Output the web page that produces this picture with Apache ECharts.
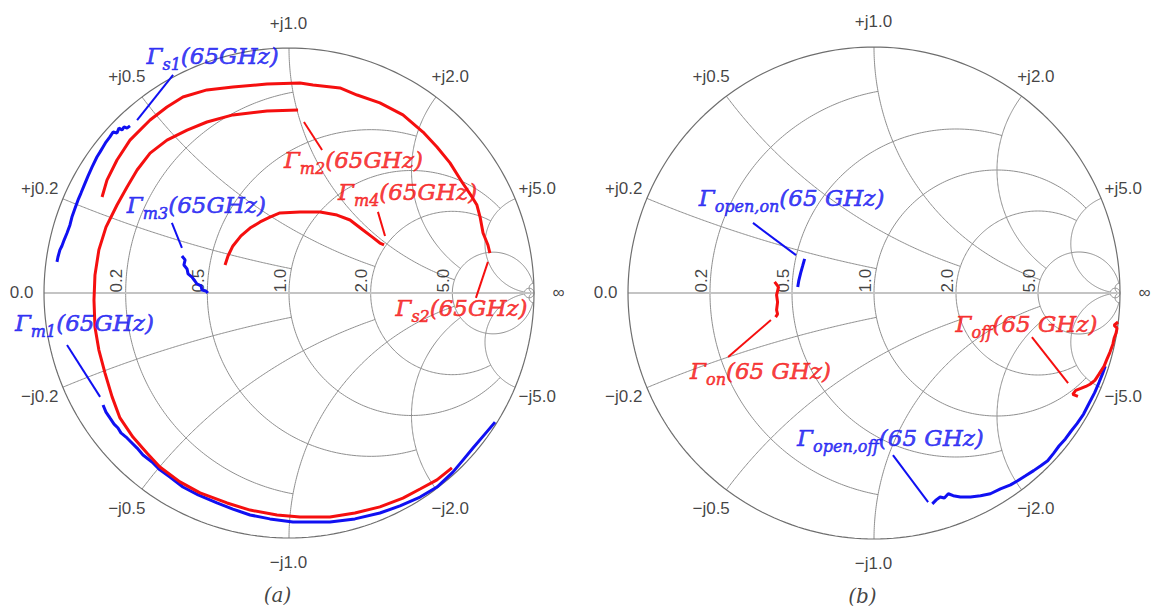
<!DOCTYPE html>
<html>
<head>
<meta charset="utf-8">
<script src="https://cdn.jsdelivr.net/npm/echarts@6/dist/echarts.min.js"></script>
<style>
  html, body { margin: 0; padding: 0; background: #ffffff; }
  #main { width: 1152px; height: 609px; }
</style>
</head>
<body>
<div id="main"></div>
<script>
// ---- Smith chart grid: circle values and the value at which each circle stops ----
const gridValues = [50, 5, 2, 1, 0.5, 0.2];
const gridLimits = [Infinity, 50, 5, 5, 2, 1];

// ---- tick labels ----
const resistanceTicks = [0.2, 0.5, 1, 2, 5];
const resistanceTickLabels = ['0.2', '0.5', '1.0', '2.0', '5.0'];
const reactanceTicks = [0.2, 0.5, 1, 2, 5];
const reactanceTickLabels = ['0.2', '0.5', '1.0', '2.0', '5.0'];

// ---- measured reflection coefficients [Re, Im] ----
// panel (a)
const gammaS1 = [[-0.947,0.127],[-0.943,0.147],[-0.935,0.176],[-0.927,0.192],[-0.918,0.216],[-0.906,0.245],
  [-0.894,0.278],[-0.886,0.310],[-0.873,0.347],[-0.861,0.380],[-0.849,0.408],[-0.837,0.437],[-0.820,0.478],
  [-0.804,0.514],[-0.784,0.555],[-0.771,0.576],[-0.759,0.596],[-0.747,0.616],[-0.731,0.637],[-0.718,0.657],
  [-0.702,0.653],[-0.694,0.673],[-0.682,0.665],[-0.673,0.678],[-0.661,0.673],[-0.649,0.682]];
const gammaS2 = [[-0.763,0.392],[-0.743,0.461],[-0.702,0.543],[-0.649,0.624],[-0.567,0.706],[-0.498,0.759],
  [-0.433,0.800],[-0.335,0.829],[-0.229,0.841],[-0.090,0.853],[0.045,0.857],[0.098,0.849],[0.208,0.837],
  [0.278,0.808],[0.371,0.776],[0.465,0.727],[0.547,0.657],[0.604,0.596],[0.657,0.531],[0.706,0.453],
  [0.747,0.392],[0.767,0.359],[0.780,0.310],[0.792,0.245],[0.812,0.196],[0.820,0.163]];
const gammaM1 = [[-0.759,-0.457],[-0.747,-0.486],[-0.731,-0.510],[-0.714,-0.535],[-0.698,-0.551],[-0.686,-0.571],
  [-0.665,-0.588],[-0.645,-0.608],[-0.620,-0.633],[-0.596,-0.661],[-0.559,-0.690],[-0.527,-0.722],[-0.486,-0.751],
  [-0.433,-0.792],[-0.371,-0.824],[-0.294,-0.857],[-0.229,-0.882],[-0.159,-0.906],[-0.078,-0.922],[0.016,-0.935],
  [0.167,-0.935],[0.269,-0.922],[0.371,-0.898],[0.453,-0.869],[0.535,-0.833],[0.604,-0.792],[0.669,-0.731],
  [0.710,-0.682],[0.751,-0.633],[0.796,-0.580],[0.841,-0.527]];
const gammaM2 = [[0.037,0.747],[-0.090,0.743],[-0.229,0.727],[-0.335,0.698],[-0.416,0.665],[-0.498,0.624],
  [-0.567,0.571],[-0.620,0.502],[-0.661,0.433],[-0.702,0.359],[-0.747,0.269],[-0.776,0.176],[-0.792,0.073],
  [-0.796,-0.029],[-0.792,-0.139],[-0.776,-0.233],[-0.751,-0.327],[-0.722,-0.424],[-0.690,-0.510],[-0.637,-0.588],
  [-0.580,-0.653],[-0.527,-0.710],[-0.445,-0.771],[-0.363,-0.816],[-0.253,-0.857],[-0.159,-0.886],[-0.049,-0.906],
  [0.045,-0.914],[0.167,-0.914],[0.269,-0.898],[0.371,-0.873],[0.465,-0.837],[0.535,-0.800],[0.604,-0.763],
  [0.665,-0.714]];
const gammaM3 = [[-0.437,0.151],[-0.424,0.135],[-0.429,0.114],[-0.416,0.098],[-0.412,0.078],[-0.396,0.065],
  [-0.384,0.049],[-0.376,0.037],[-0.359,0.029],[-0.355,0.012],[-0.339,0.008],[-0.331,0.000]];
const gammaM4 = [[-0.261,0.114],[-0.249,0.151],[-0.229,0.192],[-0.196,0.233],[-0.159,0.265],[-0.118,0.290],
  [-0.078,0.310],[-0.037,0.327],[0.045,0.331],[0.127,0.331],[0.196,0.318],[0.249,0.298],[0.302,0.257],
  [0.339,0.229],[0.371,0.204],[0.388,0.196]];
// panel (b)
const gammaOpenOn = [[-0.282,0.139],[-0.290,0.110],[-0.298,0.082],[-0.306,0.049],[-0.310,0.024]];
const gammaOn = [[-0.404,0.045],[-0.388,0.024],[-0.396,-0.008],[-0.392,-0.037],[-0.396,-0.069],[-0.392,-0.086],
  [-0.400,-0.098]];
const gammaOff = [[0.992,-0.118],[0.976,-0.131],[0.988,-0.143],[0.984,-0.163],[0.976,-0.184],[0.971,-0.208],
  [0.959,-0.241],[0.947,-0.269],[0.935,-0.298],[0.914,-0.331],[0.898,-0.355],[0.878,-0.371],[0.861,-0.380],
  [0.841,-0.388],[0.820,-0.396],[0.808,-0.412],[0.829,-0.420]];
const gammaOpenOff = [[0.237,-0.857],[0.253,-0.841],[0.269,-0.829],[0.286,-0.833],[0.302,-0.816],[0.322,-0.824],
  [0.351,-0.829],[0.392,-0.829],[0.433,-0.824],[0.473,-0.816],[0.514,-0.796],[0.555,-0.780],[0.584,-0.763],
  [0.616,-0.743],[0.649,-0.722],[0.678,-0.702],[0.706,-0.682],[0.730,-0.652],[0.752,-0.622],[0.778,-0.593],
  [0.800,-0.563],[0.826,-0.530],[0.852,-0.492],[0.875,-0.447],[0.897,-0.405],[0.915,-0.363],[0.928,-0.331],
  [0.940,-0.298]];

// ---- annotation texts ----
const freqA = '(65GHz)';
const freqB = '(65 GHz)';
const panelCaptions = ['(a)', '(b)'];

// ---- layout ----
const BLUE = '#1010f2';
const RED = '#f50f0f';
const MATH_FONT = "'DejaVu Serif', serif";
const TICK_FONT = "'Liberation Sans', Arial, sans-serif";

// trace -> panel, colour, subscript, label anchor and leader line (all in the Γ plane)
const traces = [
  { panel: 0, pts: gammaS1, color: BLUE, sub: 's1', freq: freqA, at: [-0.310, 0.959], lead: [[-0.620, 0.706], [-0.473, 0.890]] },
  { panel: 0, pts: gammaM1, color: BLUE, sub: 'm1', freq: freqA, at: [-0.833, -0.131], lead: [[-0.906, -0.212], [-0.771, -0.424]] },
  { panel: 0, pts: gammaM3, color: BLUE, sub: 'm3', freq: freqA, at: [-0.376, 0.351], lead: [[-0.478, 0.286], [-0.437, 0.184]] },
  { panel: 0, pts: gammaS2, color: RED, sub: 's2', freq: freqA, at: [0.706, -0.069], lead: [[0.812, 0.127], [0.763, -0.020]] },
  { panel: 0, pts: gammaM2, color: RED, sub: 'm2', freq: freqA, at: [0.265, 0.535], lead: [[0.061, 0.698], [0.135, 0.584]] },
  { panel: 0, pts: gammaM4, color: RED, sub: 'm4', freq: freqA, at: [0.486, 0.404], lead: [[0.363, 0.331], [0.392, 0.233]] },
  { panel: 1, pts: gammaOpenOn, color: BLUE, sub: 'open,on', freq: freqB, at: [-0.333, 0.378], lead: [[-0.492, 0.285], [-0.317, 0.154]] },
  { panel: 1, pts: gammaOpenOff, color: BLUE, sub: 'open,off', freq: freqB, at: [0.069, -0.598], lead: [[0.077, -0.659], [0.220, -0.850]] },
  { panel: 1, pts: gammaOn, color: RED, sub: 'on', freq: freqB, at: [-0.459, -0.325], lead: [[-0.419, -0.110], [-0.593, -0.260]] },
  { panel: 1, pts: gammaOff, color: RED, sub: 'off', freq: freqB, at: [0.622, -0.134], lead: [[0.642, -0.179], [0.789, -0.366]] }
];

// Γ = (z - 1) / (z + 1), z = r + jx
function gamma(r, x) {
  const d = (r + 1) * (r + 1) + x * x;
  return [(r * r + x * x - 1) / d, 2 * x / d];
}

// constant-resistance circle, drawn for |x| <= lim (uniform in arc angle)
function resistanceCircle(r, lim) {
  const c = r / (1 + r), rho = 1 / (1 + r);
  const aMax = lim === Infinity ? Math.PI / 2 : Math.atan(lim / (1 + r));
  const pts = [], N = 240;
  for (let i = 0; i <= N; i++) {
    const a = -aMax + 2 * aMax * i / N;
    pts.push([c - rho * Math.cos(2 * a), rho * Math.sin(2 * a)]);
  }
  return pts;
}

// constant-reactance arc, drawn for 0 <= r <= lim
function reactanceArc(x, lim) {
  const ax = Math.abs(x), s = Math.sign(x);
  const g0 = Math.atan(ax);                 // r = 0 (rim)
  const g1 = lim === Infinity ? 0 : Math.atan(ax / (1 + lim));
  const pts = [], N = 160;
  for (let i = 0; i <= N; i++) {
    const g = g0 + (g1 - g0) * i / N;
    pts.push([1 - Math.sin(2 * g) / ax, s * (1 - Math.cos(2 * g)) / ax]);
  }
  return pts;
}

function line(panel, pts, color, width, z) {
  return {
    type: 'line', xAxisIndex: panel, yAxisIndex: panel, data: pts,
    symbol: 'none', showSymbol: false, clip: false, silent: true, z: z,
    lineStyle: { color: color, width: width }
  };
}

function labelSeries(panel, items, z) {
  return {
    type: 'scatter', xAxisIndex: panel, yAxisIndex: panel, clip: false, silent: true, z: z,
    symbol: 'circle', symbolSize: 1, itemStyle: { color: 'rgba(0,0,0,0)' },
    label: { show: true, position: [0, 0] },
    data: items
  };
}

const series = [];

[0, 1].forEach(function (p) {
  // grid circles and arcs
  gridValues.forEach(function (v, k) {
    const lim = gridLimits[k];
    series.push(line(p, resistanceCircle(v, lim), '#8f8f8f', 1, 1));
    series.push(line(p, reactanceArc(v, lim), '#8f8f8f', 1, 1));
    series.push(line(p, reactanceArc(-v, lim), '#8f8f8f', 1, 1));
  });
  // real axis
  series.push(line(p, [[-1, 0], [1, 0]], '#c4c4c4', 2, 1));
  // outer rim
  series.push(line(p, resistanceCircle(0, Infinity), '#6e6e6e', 1.2, 1));

  // tick labels
  const tickStyle = { color: '#111111', fontFamily: TICK_FONT, fontSize: 17 };
  const items = [];
  resistanceTicks.forEach(function (r, i) {
    items.push({ value: [gamma(r, 0)[0], 0],
      label: Object.assign({ formatter: resistanceTickLabels[i], rotate: 90, align: 'left', verticalAlign: 'bottom' }, tickStyle) });
  });
  items.push({ value: [-1, 0], label: Object.assign({ formatter: '0.0', align: 'right', verticalAlign: 'middle', offset: [-10, 0] }, tickStyle) });
  items.push({ value: [1, 0], label: Object.assign({ formatter: '\u221E', align: 'center', verticalAlign: 'middle', offset: [25, 0] }, tickStyle) });
  reactanceTicks.forEach(function (x, i) {
    [1, -1].forEach(function (s) {
      const g = gamma(0, s * x);
      items.push({ value: [g[0] * 1.1, g[1] * 1.1],
        label: Object.assign({ formatter: (s > 0 ? '+j' : '\u2212j') + reactanceTickLabels[i], align: 'center', verticalAlign: 'middle' }, tickStyle) });
    });
  });
  // panel caption
  items.push({ value: [-0.045, -1.235],
    label: { formatter: panelCaptions[p], align: 'center', verticalAlign: 'middle', fontFamily: MATH_FONT, fontStyle: 'italic', fontSize: 20, lineHeight: 22, color: '#111111' } });
  series.push(labelSeries(p, items, 2));
});

// measured traces, leader lines and their labels
traces.forEach(function (t) { if (t.color === BLUE) series.push(line(t.panel, t.pts, t.color, 3, 5)); });
traces.forEach(function (t) { if (t.color === RED) series.push(line(t.panel, t.pts, t.color, 3, 6)); });
traces.forEach(function (t) { series.push(line(t.panel, t.lead, t.color, 2, 6)); });

function richFor(color) {
  const stroke = { textBorderColor: color, textBorderWidth: 0.6 };
  return {
    g: Object.assign({ fontFamily: MATH_FONT, fontStyle: 'italic', fontSize: 23, lineHeight: 26, color: color, verticalAlign: 'top' }, stroke),
    s: Object.assign({ fontFamily: MATH_FONT, fontStyle: 'italic', fontSize: 16, lineHeight: 16, color: color, padding: [12, 0, 0, 0], verticalAlign: 'top' }, stroke)
  };
}

[0, 1].forEach(function (p) {
  const items = traces.filter(function (t) { return t.panel === p; }).map(function (t) {
    return { value: t.at,
      label: { formatter: '{g|\u0393}{s|' + t.sub + '}{g|' + t.freq + '}', align: 'center', verticalAlign: 'middle', rich: richFor(t.color) } };
  });
  series.push(labelSeries(p, items, 7));
});

const chart = echarts.init(document.getElementById('main'), null, { renderer: 'svg' });
chart.setOption({
  animation: false,
  backgroundColor: '#ffffff',
  grid: [
    { left: 44, top: 48, width: 490, height: 490 },
    { left: 628, top: 47, width: 492, height: 492 }
  ],
  xAxis: [
    { gridIndex: 0, type: 'value', min: -1, max: 1, show: false },
    { gridIndex: 1, type: 'value', min: -1, max: 1, show: false }
  ],
  yAxis: [
    { gridIndex: 0, type: 'value', min: -1, max: 1, show: false },
    { gridIndex: 1, type: 'value', min: -1, max: 1, show: false }
  ],
  series: series
});
</script>
</body>
</html>
